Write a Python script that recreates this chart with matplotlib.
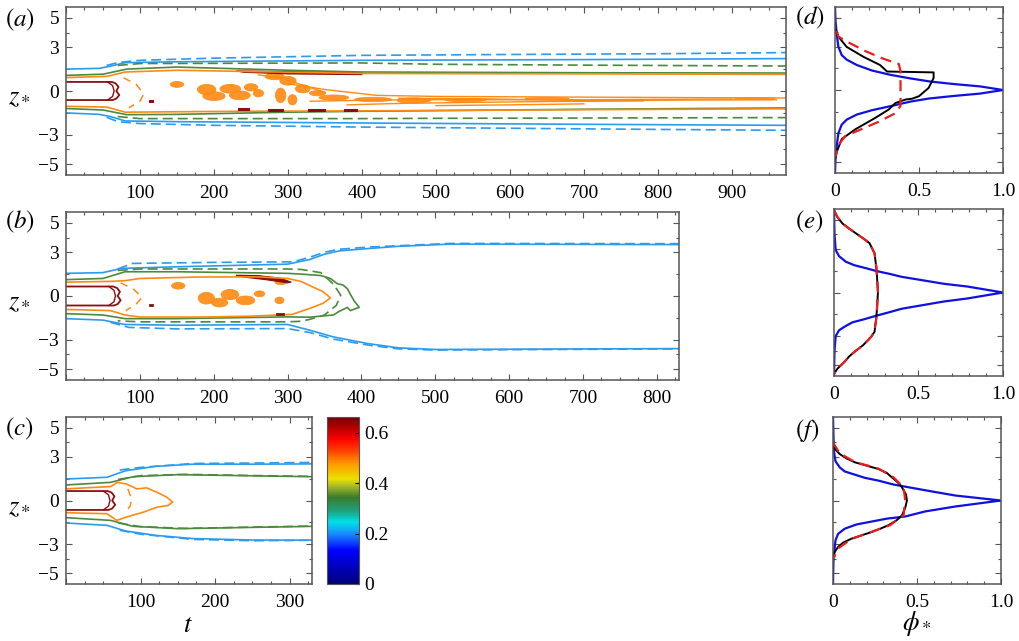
import numpy as np
import matplotlib
matplotlib.use('Agg')
import matplotlib.pyplot as plt
from matplotlib.colors import LinearSegmentedColormap, Normalize
from matplotlib.patches import Ellipse, Polygon
from matplotlib.ticker import MultipleLocator, FixedLocator, FuncFormatter
import matplotlib.cm as cm

plt.rcParams['font.family'] = ['Liberation Serif', 'DejaVu Serif']
plt.rcParams['mathtext.fontset'] = 'stix'

# colours of the contour levels
BLUE = '#2b9bf0'
GREEN = '#4b8a3c'
ORANGE = '#ff8a12'
DRED = '#8a1010'

# ---------------- panel (a) ----------------
a_blue_t = [0, 45, 60, 80, 150, 400, 700, 973]
a_blue_up = [1.5, 1.55, 1.7, 1.94, 2.0, 2.1, 2.15, 2.22]
a_blue_lo = [-1.5, -1.6, -1.75, -2.05, -2.1, -2.19, -2.28, -2.35]
a_blued_t = [55, 70, 100, 200, 400, 600, 800, 973]
a_blued_up = [1.75, 1.95, 2.1, 2.25, 2.44, 2.5, 2.55, 2.63]
a_blued_lo = [-1.8, -2.1, -2.23, -2.35, -2.47, -2.55, -2.63, -2.69]
a_green_t = [0, 50, 82, 150, 300, 400, 700, 973]
a_green_up = [1.07, 1.15, 1.5, 1.64, 1.42, 1.3, 1.25, 1.23]
a_green_lo = [-1.2, -1.3, -1.62, -1.6, -1.45, -1.39, -1.25, -1.16]
a_greend_t = [70, 100, 250, 400, 500, 700, 973]
a_greend_up = [1.75, 1.88, 1.9, 1.92, 1.83, 1.77, 1.71]
a_greend_lo = [-1.75, -1.89, -1.89, -1.89, -1.87, -1.85, -1.82]
a_orange_t = [0, 55, 80, 150, 230, 400, 700, 973]
a_orange_up = [0.92, 1.0, 1.3, 1.42, 1.35, 1.2, 1.17, 1.14]
a_orange_lo = [-1.05, -1.1, -1.45, -1.42, -1.39, -1.36, -1.28, -1.22]
# orange streaks in the tail of the core
a_streaks = [
    ([300, 350, 420, 500, 700, 973], [0.5, 0.1, -0.3, -0.37, -0.42, -0.48]),
    ([330, 420, 500, 700, 900], [-0.7, -0.62, -0.6, -0.6, -0.55]),
    ([380, 450, 550, 650, 780], [-0.95, -0.85, -0.78, -0.72, -0.68]),
    ([450, 550, 700, 850, 960], [-0.5, -0.52, -0.66, -0.62, -0.6]),
    ([500, 600, 700], [-1.0, -0.95, -0.88]),
    ([260, 290, 320, 350], [1.1, 0.9, 0.4, -0.1]),
]
# orange patches: (t, z, width in t, height in z)
a_blobs = [(150, 0.45, 18, 0.4), (190, 0.1, 25, 0.7), (200, -0.35, 30, 0.6),
           (222, 0.15, 28, 0.6), (235, -0.3, 28, 0.6), (250, 0.25, 18, 0.5),
           (260, -0.15, 14, 0.5), (282, 1.0, 26, 0.45), (300, 0.7, 22, 0.6),
           (290, -0.3, 14, 1.0), (306, -0.6, 12, 0.7), (320, 0.15, 20, 0.55),
           (340, -0.15, 22, 0.35), (362, -0.45, 40, 0.35), (415, -0.58, 50, 0.3),
           (470, -0.65, 45, 0.35), (540, -0.62, 55, 0.22), (650, -0.52, 60, 0.14),
           (930, -0.52, 55, 0.15)]
a_arc_t = [78, 95, 105, 100, 85]
a_arc_z = [0.9, 0.45, -0.2, -0.7, -1.15]
a_red_band_t = [230, 300, 400, 400, 300, 240]
a_red_band_z = [1.38, 1.33, 1.25, 1.12, 1.17, 1.28]
a_red_bits = [(240, -1.25, 12), (283, -1.3, 18), (338, -1.3, 20), (385, -1.3, 15), (115, -0.7, 3)]

# ---------------- panel (b) ----------------
b_blue_t = [0, 50, 75, 150, 300, 330, 350, 370, 410, 450, 520, 830]
b_blue_up = [1.55, 1.6, 1.89, 2.0, 2.18, 2.5, 2.86, 3.09, 3.25, 3.4, 3.55, 3.52]
b_blued_t = [70, 90, 200, 307, 330, 350, 370, 410, 520, 830]
b_blued_up = [1.85, 2.23, 2.3, 2.34, 2.65, 3.0, 3.2, 3.35, 3.6, 3.58]
b_bluel_t = [0, 50, 80, 150, 300, 330, 362, 408, 450, 500, 830]
b_blue_lo = [-1.55, -1.65, -1.95, -2.0, -1.95, -2.34, -2.8, -3.25, -3.55, -3.66, -3.6]
b_bluedl_t = [60, 85, 150, 300, 330, 362, 408, 450, 500, 830]
b_blued_lo = [-1.8, -2.15, -2.25, -2.23, -2.5, -2.95, -3.35, -3.62, -3.7, -3.62]
b_green_t = [0, 50, 80, 150, 300, 318, 345, 358, 367, 375, 381, 385, 390, 397,
             385, 381, 370, 362, 330, 300, 150, 80, 50, 0]
b_green_z = [1.12, 1.2, 1.66, 1.66, 1.55, 1.5, 1.4, 1.2, 0.85, 0.75, 0.5, 0.12,
             -0.33, -0.78, -1.0, -0.78, -1.05, -1.3, -1.45, -1.43, -1.55, -1.55, -1.3, -1.21]
b_greend_t = [70, 100, 300, 318, 345, 362, 372, 366, 350, 330, 318, 300, 100, 70]
b_greend_z = [1.75, 1.85, 1.85, 1.82, 1.6, 0.82, 0.05, -0.64, -1.3, -1.6, -1.73, -1.77, -1.77, -1.7]
b_orange_t = [0, 60, 80, 100, 180, 260, 300, 318, 335, 348, 358, 348, 330, 306, 250, 186, 100, 80, 60, 0]
b_orange_z = [0.95, 1.0, 1.05, 1.2, 1.3, 1.31, 1.2, 1.0, 0.6, 0.3, -0.13, -0.5, -0.85,
              -1.26, -1.38, -1.44, -1.44, -1.3, -1.0, -0.92]
b_blobs = [(152, 0.7, 18, 0.45), (190, -0.15, 22, 0.8), (208, -0.45, 22, 0.6),
           (222, 0.1, 24, 0.7), (243, -0.3, 25, 0.6), (262, 0.15, 14, 0.4),
           (289, -0.3, 12, 0.45), (291, 0.95, 16, 0.35)]
b_arc_t = [74, 92, 103, 95, 81]
b_arc_z = [0.9, 0.45, -0.1, -0.55, -1.0]
b_red_band_t = [230, 260, 290, 305, 300, 270, 240]
b_red_band_z = [1.42, 1.4, 1.22, 0.95, 0.9, 1.12, 1.3]
b_red_bits = [(290, -1.2, 8), (115, -0.65, 3)]

# ---------------- panel (c) ----------------
c_blue_t = [0, 55, 80, 120, 170, 250, 330]
c_blue_up = [1.48, 1.6, 2.05, 2.35, 2.5, 2.5, 2.52]
c_blue_lo = [-1.55, -1.71, -2.1, -2.4, -2.62, -2.72, -2.73]
c_blued_t = [72, 100, 170, 250, 330]
c_blued_up = [2.1, 2.28, 2.55, 2.58, 2.62]
c_blued_lo = [-2.05, -2.32, -2.68, -2.77, -2.74]
c_green_t = [0, 60, 90, 150, 250, 330]
c_green_up = [1.07, 1.25, 1.64, 1.78, 1.7, 1.64]
c_green_lo = [-1.18, -1.37, -1.78, -1.94, -1.85, -1.78]
c_greend_t = [70, 100, 160, 250, 330]
c_greend_up = [1.45, 1.71, 1.8, 1.72, 1.66]
c_greend_lo = [-1.55, -1.8, -1.92, -1.83, -1.76]
c_orange_t = [0, 60, 69, 81, 95, 108, 122, 135, 143, 137, 122, 104, 81, 68, 55, 0]
c_orange_z = [0.8, 0.96, 1.25, 1.14, 0.8, 0.87, 0.57, 0.23, -0.11, -0.34, -0.46,
              -0.8, -1.14, -1.37, -0.91, -0.84]
c_arc_t = [83, 88, 86, 79]
c_arc_z = [0.8, 0.1, -0.4, -0.8]

# dark-red core at the start of each run: (length in t, half width in z)
core = {'a': (68, 0.62), 'b': (70, 0.65), 'c': (62, 0.65)}

# ---------------- profiles (d)-(f) ----------------
d_blue_phi = [0, 0.003, 0.01, 0.02, 0.04, 0.07, 0.13, 0.22, 0.33, 0.45, 0.565, 0.7, 0.863, 1.0,
              0.863, 0.7, 0.56, 0.45, 0.33, 0.22, 0.13, 0.07, 0.04, 0.02, 0.01, 0.003, 0]
d_blue_z = [5.75, 4.8, 3.9, 3.0, 2.42, 2.1, 1.73, 1.35, 1.05, 0.8, 0.59, 0.42, 0.25, 0,
            -0.25, -0.42, -0.59, -0.8, -1.12, -1.4, -1.7, -2.05, -2.4, -3.0, -3.9, -4.8, -5.75]
d_black_phi = [0, 0.02, 0.069, 0.169, 0.268, 0.31, 0.587, 0.587, 0.557, 0.5, 0.46,
               0.42, 0.36, 0.32, 0.24, 0.12, 0.04, 0.01, 0]
d_black_z = [4.2, 3.7, 2.99, 2.3, 1.73, 1.28, 1.22, 0.83, 0.14, -0.43, -0.6,
             -0.66, -0.9, -1.35, -1.93, -2.73, -3.4, -4.3, -4.8]
d_red_phi = [0.01, 0.02, 0.08, 0.18, 0.28, 0.38, 0.39, 0.39, 0.36, 0.26, 0.14, 0.06, 0.015, 0.005]
d_red_z = [4.1, 3.7, 3.3, 2.7, 2.2, 1.8, 1.3, -1.1, -1.6, -2.2, -2.8, -3.2, -3.9, -4.6]

e_blue_phi = [0, 0.003, 0.01, 0.03, 0.07, 0.12, 0.19, 0.25, 0.33, 0.4, 0.51, 0.65, 0.79, 1.0,
              0.79, 0.65, 0.51, 0.4, 0.33, 0.25, 0.17, 0.11, 0.07, 0.03, 0.01, 0.003, 0]
e_blue_z = [5.7, 4.0, 2.92, 2.5, 2.12, 1.88, 1.67, 1.48, 1.28, 1.08, 0.87, 0.6, 0.41, 0,
            -0.41, -0.62, -0.9, -1.12, -1.35, -1.6, -1.87, -2.05, -2.3, -2.6, -3.0, -4.0, -5.7]
e_black_phi = [0, 0.02, 0.05, 0.09, 0.13, 0.17, 0.21, 0.225, 0.24, 0.245, 0.25, 0.255, 0.26,
               0.255, 0.25, 0.245, 0.24, 0.22, 0.2, 0.17, 0.13, 0.09, 0.06, 0.02, 0]
e_black_z = [5.66, 5.2, 4.75, 4.4, 4.07, 3.75, 3.4, 3.05, 2.7, 2.2, 1.8, 1.0, 0,
             -1.0, -1.8, -2.2, -2.7, -3.05, -3.3, -3.65, -4.0, -4.4, -4.8, -5.25, -5.6]
e_red_phi = e_black_phi
e_red_z = e_black_z

f_blue_phi = [0, 0.005, 0.015, 0.04, 0.07, 0.13, 0.19, 0.27, 0.36, 0.47, 0.6, 0.73, 1.0,
              0.73, 0.55, 0.43, 0.32, 0.23, 0.14, 0.07, 0.03, 0.015, 0.003, 0]
f_blue_z = [5.7, 3.42, 2.7, 2.28, 2.0, 1.78, 1.56, 1.37, 1.1, 0.87, 0.6, 0.34, 0,
            -0.41, -0.75, -1.1, -1.25, -1.45, -1.65, -1.94, -2.3, -2.74, -4.0, -5.7]
f_black_phi = [0, 0.005, 0.015, 0.04, 0.08, 0.13, 0.2, 0.27, 0.32, 0.35, 0.39, 0.41, 0.435, 0.44,
               0.43, 0.41, 0.38, 0.33, 0.28, 0.23, 0.17, 0.11, 0.06, 0.03, 0.01, 0]
f_black_z = [3.95, 3.77, 3.5, 3.2, 2.9, 2.63, 2.4, 2.17, 1.9, 1.6, 1.2, 0.91, 0.4, 0,
             -0.5, -1.03, -1.35, -1.7, -1.95, -2.17, -2.4, -2.63, -2.9, -3.2, -3.55, -3.9]
f_red_phi = [0, 0.005, 0.04, 0.13, 0.27, 0.36, 0.42, 0.43, 0.42, 0.34, 0.23, 0.11, 0.03, 0.005]
f_red_z = [4.05, 3.9, 3.25, 2.65, 2.2, 1.6, 0.9, 0, -1.0, -1.7, -2.15, -2.65, -3.3, -3.95]

# colour scale of the contour levels
cb_max = 0.663
cmap = LinearSegmentedColormap.from_list('phi', [
    (0.0, '#00007a'), (0.2, '#0000ff'), (0.3, '#1a8cff'), (0.37, '#00e0e8'),
    (0.44, '#1fa07a'), (0.52, '#3b7a2a'), (0.58, '#9db52a'), (0.63, '#ece000'),
    (0.72, '#ff9a00'), (0.8, '#ff4000'), (0.87, '#ff0000'), (0.94, '#b00000'),
    (1.0, '#7a0000')])

W, H = 1020, 641


def box(l, t, r, b):
    return [l / W, 1 - b / H, (r - l) / W, (b - t) / H]


def style(ax, xmax, major, minor):
    ax.set_xlim(0, xmax)
    ax.set_ylim(-5.75, 5.75)
    ax.xaxis.set_major_locator(MultipleLocator(major))
    ax.xaxis.set_minor_locator(MultipleLocator(minor))
    ax.yaxis.set_major_locator(FixedLocator([-5, -3, 0, 3, 5]))
    ax.yaxis.set_minor_locator(FixedLocator([-4, -1.5, 1.5, 4]))
    ax.yaxis.set_major_formatter(FuncFormatter(lambda v, p: '%d' % v if v >= 0 else '\u2212%d' % -v))
    ax.tick_params(which='both', direction='in', top=True, right=True,
                   labelsize=14, width=0.8, color='#555555')
    ax.tick_params(which='major', length=4.5)
    ax.tick_params(which='minor', length=2.5)
    ax.tick_params(axis='x', pad=7)
    ax.tick_params(axis='y', pad=5)
    for s in ax.spines.values():
        s.set_color('#555555')
        s.set_linewidth(1.1)


def sym(ax, t, up, lo, color, ls='-'):
    dash = (0, (6, 3)) if ls == '--' else '-'
    ax.plot(t, up, color=color, lw=1.2, ls=dash)
    ax.plot(t, lo, color=color, lw=1.2, ls=dash)


def draw_core(ax, key):
    L, h = core[key]
    ax.plot([0, L - 6, L - 1, L + 3, L, L + 4, L, L - 5, 0],
            [h, h, h - 0.1, h * 0.45, 0, -h * 0.45, -h + 0.1, -h, -h],
            color=DRED, lw=1.3)
    ax.plot([L - 12, L - 5, L - 3, L - 5, L - 12],
            [h, h * 0.6, 0, -h * 0.6, -h], color=DRED, lw=1.0)


def draw_blobs(ax, blobs):
    for t, z, w, hgt in blobs:
        ax.add_patch(Ellipse((t, z), w, hgt, facecolor=ORANGE, edgecolor=ORANGE,
                             lw=0.6, alpha=0.9))


no_zero = FuncFormatter(lambda v, p: '' if v == 0 else '%d' % v)

fig = plt.figure(figsize=(W / 100, H / 100), dpi=100)

# (a)
ax = fig.add_axes(box(66, 7, 786, 175))
style(ax, 973, 100, 25)
ax.xaxis.set_major_formatter(no_zero)
sym(ax, a_blue_t, a_blue_up, a_blue_lo, BLUE)
sym(ax, a_blued_t, a_blued_up, a_blued_lo, BLUE, '--')
sym(ax, a_green_t, a_green_up, a_green_lo, GREEN)
sym(ax, a_greend_t, a_greend_up, a_greend_lo, GREEN, '--')
sym(ax, a_orange_t, a_orange_up, a_orange_lo, ORANGE)
for t, z in a_streaks:
    ax.plot(t, z, color=ORANGE, lw=1.0)
draw_blobs(ax, a_blobs)
ax.plot(a_arc_t, a_arc_z, color=ORANGE, lw=1.1, ls=(0, (5, 4)))
ax.add_patch(Polygon(np.column_stack([a_red_band_t, a_red_band_z]), closed=True,
                     facecolor=DRED, edgecolor=DRED, lw=0.8))
for t, z, w in a_red_bits:
    ax.plot([t - w / 2, t + w / 2], [z, z], color=DRED, lw=2.2)
draw_core(ax, 'a')

# (b)
ax = fig.add_axes(box(66, 212, 679, 380))
style(ax, 830, 100, 25)
ax.xaxis.set_major_formatter(no_zero)
ax.plot(b_blue_t, b_blue_up, color=BLUE, lw=1.2)
ax.plot(b_blued_t, b_blued_up, color=BLUE, lw=1.2, ls=(0, (6, 3)))
ax.plot(b_bluel_t, b_blue_lo, color=BLUE, lw=1.2)
ax.plot(b_bluedl_t, b_blued_lo, color=BLUE, lw=1.2, ls=(0, (6, 3)))
ax.plot(b_green_t, b_green_z, color=GREEN, lw=1.2)
ax.plot(b_greend_t, b_greend_z, color=GREEN, lw=1.2, ls=(0, (6, 3)))
ax.plot(b_orange_t, b_orange_z, color=ORANGE, lw=1.2)
draw_blobs(ax, b_blobs)
ax.plot(b_arc_t, b_arc_z, color=ORANGE, lw=1.1, ls=(0, (5, 4)))
ax.add_patch(Polygon(np.column_stack([b_red_band_t, b_red_band_z]), closed=True,
                     facecolor=DRED, edgecolor=DRED, lw=0.8))
for t, z, w in b_red_bits:
    ax.plot([t - w / 2, t + w / 2], [z, z], color=DRED, lw=2.0)
draw_core(ax, 'b')

# (c)
ax = fig.add_axes(box(66, 417, 312, 584))
style(ax, 330, 100, 25)
ax.xaxis.set_major_formatter(no_zero)
sym(ax, c_blue_t, c_blue_up, c_blue_lo, BLUE)
sym(ax, c_blued_t, c_blued_up, c_blued_lo, BLUE, '--')
sym(ax, c_green_t, c_green_up, c_green_lo, GREEN)
sym(ax, c_greend_t, c_greend_up, c_greend_lo, GREEN, '--')
ax.plot(c_orange_t, c_orange_z, color=ORANGE, lw=1.2)
ax.plot(c_arc_t, c_arc_z, color=ORANGE, lw=1.1, ls=(0, (5, 4)))
draw_core(ax, 'c')

# colour bar
cax = fig.add_axes(box(327, 417, 359, 584))
sm = cm.ScalarMappable(norm=Normalize(0, cb_max), cmap=cmap)
cbar = fig.colorbar(sm, cax=cax, ticks=[0, 0.2, 0.4, 0.6])
cbar.ax.set_yticklabels(['0', '0.2', '0.4', '0.6'])
cbar.ax.tick_params(labelsize=14, direction='in', length=3, width=0.8, pad=4)
cbar.outline.set_edgecolor('#555555')

# profiles
prof = [
    (box(835, 7, 1003, 173), d_blue_phi, d_blue_z, d_black_phi, d_black_z, d_red_phi, d_red_z),
    (box(834, 209, 1003, 376), e_blue_phi, e_blue_z, e_black_phi, e_black_z, e_red_phi, e_red_z),
    (box(833, 417, 1001, 584), f_blue_phi, f_blue_z, f_black_phi, f_black_z, f_red_phi, f_red_z),
]
for pos, bp, bz, kp, kz, rp, rz in prof:
    ax = fig.add_axes(pos)
    style(ax, 1.0, 0.5, 0.1)
    ax.set_yticklabels([])
    ax.set_xticks([0, 0.5, 1.0])
    ax.set_xticklabels(['0', '0.5', '1.0'])
    ax.plot(bp, bz, color='#1010e0', lw=1.6)
    ax.plot(kp, kz, color='black', lw=1.4)
    ax.plot(rp, rz, color='#ee1c1c', lw=1.6, ls=(0, (5, 3)))

# labels
for x, y, s in [(5, 20, '(a)'), (5, 222, '(b)'), (5, 429, '(c)'),
                (795, 18, '(d)'), (795, 222, '(e)'), (795, 431, '(f)')]:
    fig.text(x / W, 1 - y / H, '$' + s + '$', fontsize=18, va='center', ha='left')
for y in [97, 302, 507]:
    fig.text(8 / W, 1 - y / H, r'$z_*$', fontsize=19, va='center', ha='left')
fig.text(188 / W, 1 - 626 / H, r'$t$', fontsize=19, va='center', ha='center')
fig.text(917 / W, 1 - 624 / H, r'$\phi_*$', fontsize=19, va='center', ha='center')

fig.savefig('out.png', dpi=100)
